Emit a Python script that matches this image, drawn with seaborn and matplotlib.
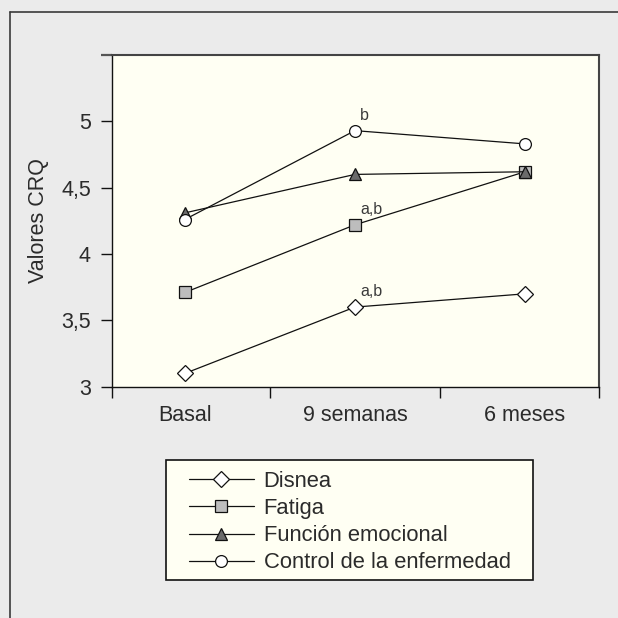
import matplotlib
matplotlib.use('Agg')
import matplotlib.pyplot as plt
from matplotlib.lines import Line2D
from matplotlib.patches import Rectangle
from matplotlib.ticker import FixedLocator
import seaborn as sns
import pandas as pd

# Data
timepoints = ['Basal', '9 semanas', '6 meses']
disnea = [3.10, 3.60, 3.70]
fatiga = [3.71, 4.22, 4.62]
funcion_emocional = [4.31, 4.60, 4.62]
control_enfermedad = [4.26, 4.93, 4.83]
series_names = ['Disnea', 'Fatiga', 'Función emocional', 'Control de la enfermedad']

y_ticks = [3, 3.5, 4, 4.5, 5, 5.5]
y_tick_labels = ['3', '3,5', '4', '4,5', '5', '']
y_label = 'Valores CRQ'

# significance marks: (series, timepoint, text)
marks = [('Control de la enfermedad', '9 semanas', 'b'),
         ('Fatiga', '9 semanas', 'a,b'),
         ('Disnea', '9 semanas', 'a,b')]

# long format table
values = [disnea, fatiga, funcion_emocional, control_enfermedad]
rows = []
for name, vals in zip(series_names, values):
    for t, v in zip(timepoints, vals):
        rows.append({'tiempo': t, 'valor': v, 'serie': name})
df = pd.DataFrame(rows)

# marker styles per series
styles = {
    'Disnea': dict(marker='D', markerfacecolor='white', markersize=7.8),
    'Fatiga': dict(marker='s', markerfacecolor='#bdbdbd', markersize=8),
    'Función emocional': dict(marker='^', markerfacecolor='#6b6b6b', markersize=9),
    'Control de la enfermedad': dict(marker='o', markerfacecolor='white', markersize=8.5),
}

sns.set_style('white')
plt.rcParams['font.family'] = ['Liberation Sans', 'DejaVu Sans']
text_color = '#2b2b2b'

W = 618.0
fig = plt.figure(figsize=(6.18, 6.18), dpi=100, facecolor='#ebebeb')
fig.patch.set_linewidth(0)

# outer frame (top and left lines)
fig.add_artist(Line2D([10 / W, 1.0], [1 - 12 / W, 1 - 12 / W], color='#3a3a3a', lw=1.2))
fig.add_artist(Line2D([10 / W, 10 / W], [1 - 12 / W, 0.0], color='#3a3a3a', lw=1.2))

ax = fig.add_axes([111.7 / W, 1 - 386.7 / W, (599 - 111.7) / W, (386.7 - 55) / W])
ax.set_facecolor('#fffff3')

for name in series_names:
    sub = df[df['serie'] == name]
    sns.lineplot(data=sub, x='tiempo', y='valor', ax=ax, sort=False,
                 color='#111111', lw=0.9, markeredgecolor='#111111',
                 markeredgewidth=0.9, label=name, **styles[name])

# significance letters
for name, t, txt in marks:
    sub = df[(df['serie'] == name) & (df['tiempo'] == t)]
    xi = timepoints.index(t)
    ax.annotate(txt, (xi, sub['valor'].iloc[0]), xytext=(5, 11),
                textcoords='offset pixels', fontsize=11.5, color='#3a3a3a',
                ha='left', va='baseline')

# axes limits and ticks
x0, x1 = -0.43, 2.435
ax.set_xlim(x0, x1)
ax.set_ylim(3, 5.5)
ax.set_xticks(range(len(timepoints)))
ax.set_xticklabels(timepoints)
ax.xaxis.set_minor_locator(FixedLocator([x0, 0.5, 1.5, x1]))
ax.tick_params(axis='x', which='major', length=0, pad=13.5, labelsize=15.5, labelcolor=text_color)
ax.tick_params(axis='x', which='minor', bottom=True, length=8, width=1.0, color='#111111', direction='out')
ax.set_yticks(y_ticks)
ax.set_yticklabels(y_tick_labels)
ax.tick_params(axis='y', which='major', left=True, length=8, width=1.0, color='#111111',
               pad=7, labelsize=15.5, labelcolor=text_color, direction='out')
top_tick = ax.yaxis.get_major_ticks()[-1].tick1line
top_tick.set_markeredgecolor('#555555')
top_tick.set_markeredgewidth(1.6)

ax.set_xlabel('')
ax.set_ylabel(y_label, fontsize=15.5, color=text_color)
ax.yaxis.set_label_coords(-0.128, 0.5)

for side in ['left', 'bottom']:
    ax.spines[side].set_visible(True)
    ax.spines[side].set_color('#111111')
    ax.spines[side].set_linewidth(1.0)
for side in ['top', 'right']:
    ax.spines[side].set_visible(True)
    ax.spines[side].set_color('#444444')
    ax.spines[side].set_linewidth(1.5)

# legend below the plot in its own box
handles, labels = ax.get_legend_handles_labels()
if ax.get_legend() is not None:
    ax.get_legend().remove()
fig.add_artist(Rectangle((165.7 / W, 1 - 580 / W), (533 - 165.7) / W, 120 / W,
                         transform=fig.transFigure, facecolor='#fffff3',
                         edgecolor='#111111', lw=1.2))
leg = fig.legend(handles, labels, loc='upper left', bbox_to_anchor=(189 / W, 1 - 471 / W),
                 frameon=False, borderpad=0, borderaxespad=0, fontsize=15.8,
                 handlelength=2.95, handletextpad=0.45, labelspacing=0.28)
for t in leg.get_texts():
    t.set_color(text_color)

fig.savefig('out.png', dpi=100, facecolor=fig.get_facecolor(), edgecolor='none')
